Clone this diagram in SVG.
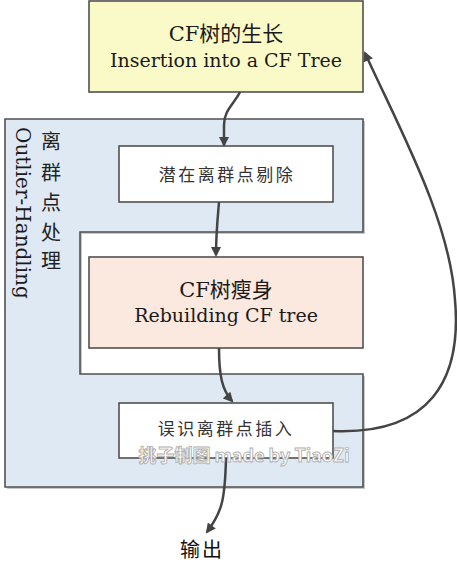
<svg xmlns="http://www.w3.org/2000/svg" width="457" height="563" viewBox="0 0 457 563">
<style>
.box{stroke:#505050;stroke-width:1.6}
.en{font-family:"DejaVu Serif","Liberation Serif",serif;font-size:19px;fill:#1a1a1a}
.cjkt{font-family:"DejaVu Serif","Noto Sans CJK SC",serif;font-size:21px;fill:#1a1a1a}
.cn{font-family:"Noto Sans CJK SC",sans-serif;font-size:17px;fill:#333;font-weight:400;letter-spacing:2.5px}
.conn{fill:none;stroke:#444;stroke-width:2.5}
</style>
<defs>
<marker id="ah" viewBox="0 0 10 10" refX="8" refY="5" markerWidth="11" markerHeight="10" markerUnits="userSpaceOnUse" orient="auto">
<path d="M0,0 L10,5 L0,10 z" fill="#444"/>
</marker>
</defs>
<g id="outlier-handling">
<path d="M7,121 H365 V234 H82 V376 H365 V489 H7 Z" fill="#c8c8c8"/>
<path class="box" d="M5,119 H363 V232 H80 V374 H363 V487 H5 Z" fill="#dfe9f3"/>
<text class="en" transform="translate(16,127) rotate(90)" style="font-size:20px">Outlier-Handling</text>
<g font-family="'Noto Sans CJK SC',sans-serif" font-size="20" fill="#222" text-anchor="middle">
<text x="51" y="149">离</text>
<text x="51" y="180">群</text>
<text x="51" y="210">点</text>
<text x="51" y="240">处</text>
<text x="51" y="268">理</text>
</g>
</g>
<g id="cf-growth">
<rect class="box" x="89" y="1" width="274" height="91" fill="#fafac8"/>
<text class="cjkt" x="226" y="41" text-anchor="middle">CF树的生长</text>
<text class="en" x="226" y="67" text-anchor="middle">Insertion into a CF Tree</text>
</g>
<g id="remove-outliers">
<rect class="box" x="119" y="146" width="214" height="56" fill="#ffffff"/>
<text class="cn" x="227" y="181" text-anchor="middle">潜在离群点剔除</text>
</g>
<g id="cf-rebuild">
<rect class="box" x="89" y="257" width="274" height="91" fill="#fbe8de"/>
<text class="cjkt" x="226" y="297" text-anchor="middle">CF树瘦身</text>
<text class="en" x="226" y="322" text-anchor="middle">Rebuilding CF tree</text>
</g>
<g id="reinsert">
<rect class="box" x="119" y="403" width="214" height="55" fill="#ffffff"/>
<text class="cn" x="226" y="435" text-anchor="middle">误识离群点插入</text>
</g>
<g id="output">
<text x="202" y="557" text-anchor="middle" font-family="'Noto Sans CJK SC',sans-serif" font-size="20" fill="#111" letter-spacing="2">输出</text>
</g>
<g id="connectors">
<path class="conn" d="M240,92 C234,104 224,110 224,125 L224,145" marker-end="url(#ah)"/>
<path class="conn" d="M219,202 C217,225 216,235 216,255" marker-end="url(#ah)"/>
<path class="conn" d="M219,348 C219,375 222,390 232,401" marker-end="url(#ah)"/>
<path class="conn" d="M226,458 C225,500 222,512 207,532" marker-end="url(#ah)"/>
<path class="conn" d="M333,431 C430,435 462,380 455,300 C450,220 400,130 365,53" marker-end="url(#ah)"/>
</g>
<text x="244" y="462" text-anchor="middle" font-family="'Noto Sans CJK SC',sans-serif" font-weight="bold" font-size="18" fill="#ffffff" stroke="#b0b0b0" stroke-width="0.9">挑子制图 made by TiaoZi</text>
</svg>
